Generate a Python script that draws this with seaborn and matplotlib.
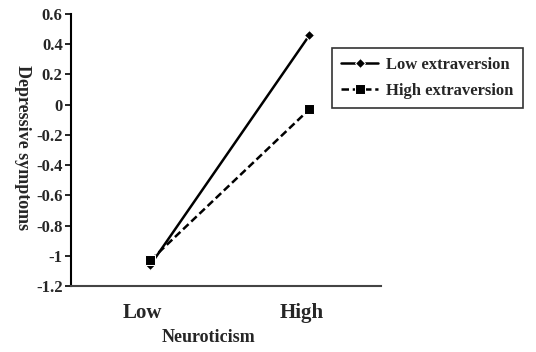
import matplotlib
matplotlib.use("Agg")
import matplotlib.pyplot as plt
import matplotlib.transforms as mtransforms
import seaborn as sns
import pandas as pd

categories = ["Low", "High"]
low_extraversion = [-1.06, 0.46]
high_extraversion = [-1.03, -0.03]
series_names = ["Low extraversion", "High extraversion"]
yticks = [0.6, 0.4, 0.2, 0, -0.2, -0.4, -0.6, -0.8, -1, -1.2]

df = pd.DataFrame({
    "Neuroticism": categories * 2,
    "value": low_extraversion + high_extraversion,
    "group": [series_names[0]] * 2 + [series_names[1]] * 2,
})

sns.set_style("white")
plt.rcParams["font.family"] = ["Liberation Serif", "DejaVu Serif"]
plt.rcParams["font.weight"] = "bold"

fig = plt.figure(figsize=(5.36, 3.52), dpi=100)
ax = fig.add_axes([71 / 536, 1 - 286 / 352, (381 - 71) / 536, (286 - 14) / 352])

sns.lineplot(data=df, x="Neuroticism", y="value", hue="group", style="group",
             palette=["black", "black"], markers={series_names[0]: "D", series_names[1]: "s"},
             dashes={series_names[0]: "", series_names[1]: (3, 1.5)},
             markersize=6, linewidth=1.8, ax=ax, legend=True, sort=False)

for line in ax.lines:
    if line.get_marker() == "D":
        line.set_markersize(5.5)
    else:
        line.set_markersize(6.5)

ax.set_xlim(-0.5, 1.45)
ax.set_ylim(-1.2, 0.6)
ax.set_yticks(yticks)
ax.set_yticklabels([("%g" % v) for v in yticks], fontsize=12, fontweight="bold")
ax.set_xticks([0, 1])
ax.set_xticklabels(categories, fontsize=15, fontweight="bold")
ax.tick_params(axis="y", direction="out", length=4, width=1.2, color="black", pad=2, left=True)
ax.tick_params(axis="x", length=0, pad=12)

for s in ["top", "right"]:
    ax.spines[s].set_visible(False)
ax.spines["left"].set_color("black")
ax.spines["left"].set_linewidth(1.5)
ax.spines["bottom"].set_color("#444444")
ax.spines["bottom"].set_linewidth(1.5)

ax.set_xlabel("")
ax.set_ylabel("")
fig.text(209 / 536, 1 - 338 / 352, "Neuroticism", ha="center", va="center", fontsize=13, fontweight="bold")
fig.text(22 / 536, 1 - 148 / 352, "Depressive symptoms", ha="center", va="center",
         rotation=270, fontsize=13, fontweight="bold")

handles, labels = ax.get_legend_handles_labels()
ax.get_legend().remove()
leg = fig.legend(handles, labels, loc="upper left", bbox_to_anchor=(332 / 536, 1 - 48 / 352),
                 borderaxespad=0, frameon=True, fancybox=False, edgecolor="black",
                 prop={"weight": "bold", "size": 12}, handlelength=2.2, handletextpad=0.5,
                 borderpad=0.55, labelspacing=0.6)
leg.get_frame().set_linewidth(1.2)

offset = mtransforms.ScaledTranslation(-8 / 100, 0, fig.dpi_scale_trans)
for t in ax.xaxis.get_major_ticks():
    t.label1.set_transform(t.label1.get_transform() + offset)

fig.savefig("out.png", dpi=100)
